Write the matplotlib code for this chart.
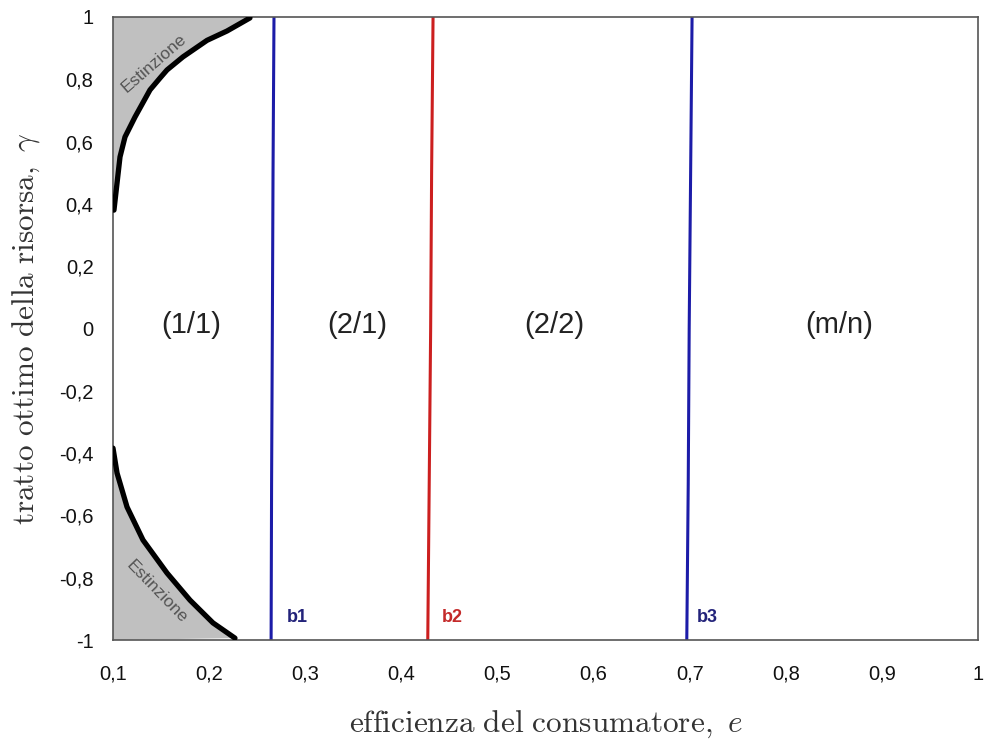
import matplotlib
matplotlib.use("Agg")
import matplotlib.pyplot as plt

plt.rcParams['mathtext.fontset'] = 'cm'

# upper extinction boundary (e, gamma)
up_e = [0.101, 0.1073, 0.1125, 0.1229, 0.1385, 0.1489, 0.1562, 0.1728, 0.1978, 0.2186, 0.2425]
up_g = [0.380, 0.551, 0.615, 0.679, 0.766, 0.804, 0.830, 0.872, 0.925, 0.955, 0.997]
# lower extinction boundary
lo_e = [0.100, 0.1042, 0.1146, 0.1312, 0.1562, 0.1801, 0.2040, 0.2269]
lo_g = [-0.384, -0.464, -0.573, -0.679, -0.785, -0.872, -0.945, -0.994]

# bifurcation lines
b_g = [-1.0, -0.5, 0.0, 0.5, 1.0]
b1_e = [0.2645, 0.2650, 0.2658, 0.2665, 0.2675]
b2_e = [0.4275, 0.4290, 0.4305, 0.4315, 0.4330]
b3_e = [0.6970, 0.6985, 0.6995, 0.7010, 0.7025]

regions = ["(1/1)", "(2/1)", "(2/2)", "(m/n)"]
region_x = [0.181, 0.354, 0.559, 0.856]

xticks = [0.1, 0.2, 0.3, 0.4, 0.5, 0.6, 0.7, 0.8, 0.9, 1.0]
xticklabels = ["0,1", "0,2", "0,3", "0,4", "0,5", "0,6", "0,7", "0,8", "0,9", "1"]
yticks = [-1, -0.8, -0.6, -0.4, -0.2, 0, 0.2, 0.4, 0.6, 0.8, 1]
yticklabels = ["-1", "-0,8", "-0,6", "-0,4", "-0,2", "0", "0,2", "0,4", "0,6", "0,8", "1"]

fig = plt.figure(figsize=(9.87, 7.45), dpi=100)
ax = fig.add_axes([113/987, 1 - 640/745, (978-113)/987, (640-17)/745])
ax.set_xlim(0.1, 1.0)
ax.set_ylim(-1, 1)

gray = "#c0c0c0"
ax.fill(up_e + [0.1], up_g + [1.0], color=gray, lw=0, zorder=1)
ax.fill(lo_e + [0.1], lo_g + [-1.0], color=gray, lw=0, zorder=1)
ax.plot(up_e, up_g, color="black", lw=3.8, solid_capstyle="round", zorder=3)
ax.plot(lo_e, lo_g, color="black", lw=3.8, solid_capstyle="round", zorder=3)

blue = "#1c1ca8"
red = "#cc1f1f"
ax.plot(b1_e, b_g, color=blue, lw=2.2, zorder=2)
ax.plot(b2_e, b_g, color=red, lw=2.2, zorder=2)
ax.plot(b3_e, b_g, color=blue, lw=2.2, zorder=2)

lab_kw = dict(fontsize=13, fontweight="bold", family="Liberation Sans", va="center", ha="left")
ax.text(0.281, -0.929, "b1", color="#23237a", **lab_kw)
ax.text(0.442, -0.929, "b2", color="#c42a2a", **lab_kw)
ax.text(0.7076, -0.929, "b3", color="#23237a", **lab_kw)

for name, x in zip(regions, region_x):
    ax.text(x, 0.011, name, fontsize=21, family="Liberation Sans", color="#222222",
            ha="center", va="center")

ax.text(0.1430, 0.852, "Estinzione", rotation=41, fontsize=12.5, color="#555555",
        family="Liberation Sans", ha="center", va="center", rotation_mode="anchor")
ax.text(0.1460, -0.846, "Estinzione", rotation=-46, fontsize=12.5, color="#555555",
        family="Liberation Sans", ha="center", va="center", rotation_mode="anchor")

ax.set_xticks(xticks)
ax.set_xticklabels(xticklabels)
ax.set_yticks(yticks)
ax.set_yticklabels(yticklabels)
ax.tick_params(length=0, labelsize=14.5, colors="#111111")
ax.tick_params(axis="x", pad=18)
ax.tick_params(axis="y", pad=14)
for lbl in ax.get_xticklabels() + ax.get_yticklabels():
    lbl.set_family("Liberation Sans")
for s in ax.spines.values():
    s.set_color("#555555")
    s.set_linewidth(1.2)

ax.set_xlabel(r"$\mathrm{efficienza\ del\ consumatore,}\ e$", fontsize=22.5, color="#333333", labelpad=18)
ax.set_ylabel(r"$\mathrm{tratto\ ottimo\ della\ risorsa,}\ \gamma$", fontsize=22.5, color="#333333", labelpad=12)

fig.savefig("out.png", dpi=100)
